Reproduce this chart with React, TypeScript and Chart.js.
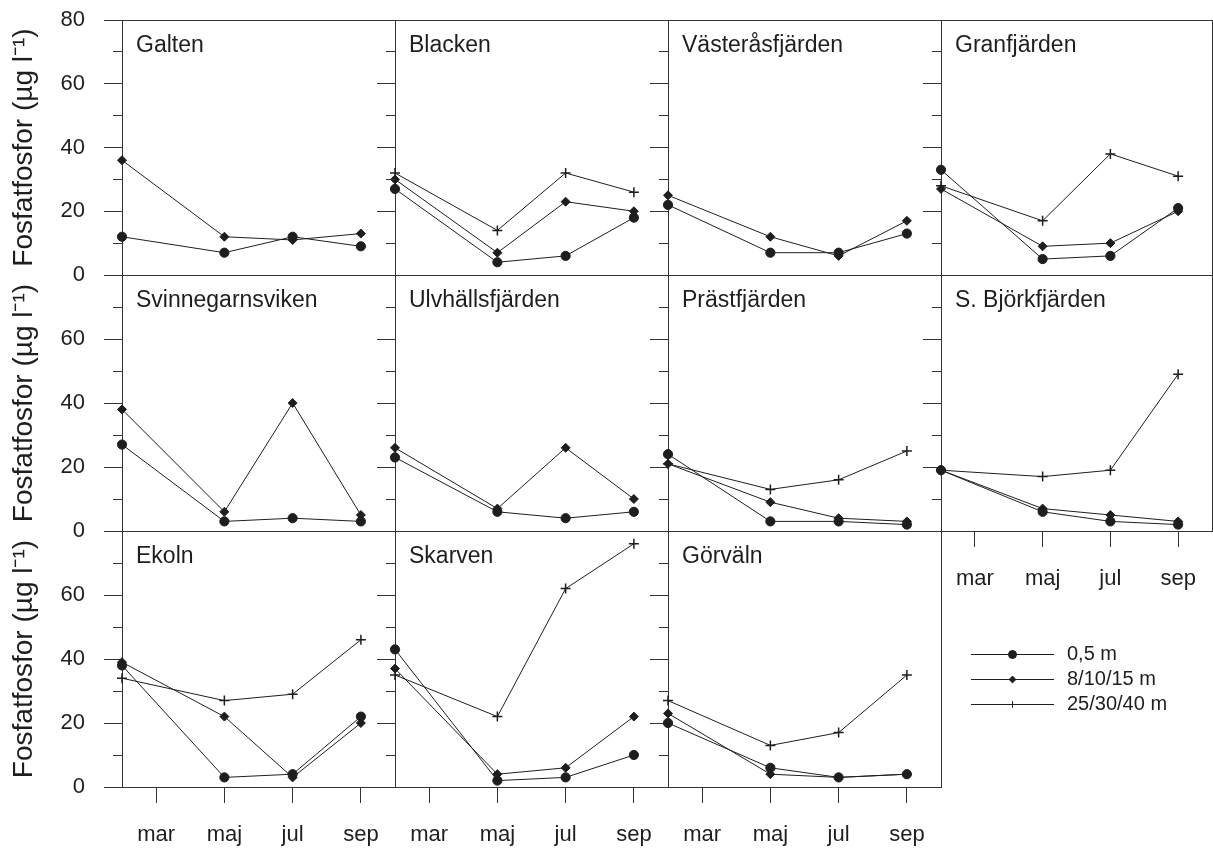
import React, { useEffect, useRef } from 'react';
import { Chart, registerables } from 'chart.js';

Chart.register(...registerables);

// ---------------- data ----------------
const SAMPLE_MONTHS = [2, 5, 7, 9]; // feb, maj, jul, sep
const MONTH_TICKS = [3, 5, 7, 9];
const MONTH_LABELS = ['mar', 'maj', 'jul', 'sep'];
const MINOR_Y_TICKS = [10, 30, 50, 70];
const DEPTHS = ['0,5 m', '8/10/15 m', '25/30/40 m'];
const Y_TITLE = 'Fosfatfosfor (µg l\u207B\u00B9)';

const GALTEN_05 = [12, 7, 12, 9];
const GALTEN_MID = [36, 12, 11, 13];

const BLACKEN_05 = [27, 4, 6, 18];
const BLACKEN_MID = [30, 7, 23, 20];
const BLACKEN_DEEP = [32, 14, 32, 26];

const VASTERAS_05 = [22, 7, 7, 13];
const VASTERAS_MID = [25, 12, 6, 17];

const GRAN_05 = [33, 5, 6, 21];
const GRAN_MID = [27, 9, 10, 20];
const GRAN_DEEP = [28, 17, 38, 31];

const SVINN_05 = [27, 3, 4, 3];
const SVINN_MID = [38, 6, 40, 5];

const ULV_05 = [23, 6, 4, 6];
const ULV_MID = [26, 7, 26, 10];

const PRAST_05 = [24, 3, 3, 2];
const PRAST_MID = [21, 9, 4, 3];
const PRAST_DEEP = [21, 13, 16, 25];

const BJORK_05 = [19, 6, 3, 2];
const BJORK_MID = [19, 7, 5, 3];
const BJORK_DEEP = [19, 17, 19, 49];

const EKOLN_05 = [38, 3, 4, 22];
const EKOLN_MID = [39, 22, 3, 20];
const EKOLN_DEEP = [34, 27, 29, 46];

const SKARV_05 = [43, 2, 3, 10];
const SKARV_MID = [37, 4, 6, 22];
const SKARV_DEEP = [35, 22, 62, 76];

const GORV_05 = [20, 6, 3, 4];
const GORV_MID = [23, 4, 3, 4];
const GORV_DEEP = [27, 13, 17, 35];

const STATIONS = [
  'Galten', 'Blacken', 'Västeråsfjärden', 'Granfjärden',
  'Svinnegarnsviken', 'Ulvhällsfjärden', 'Prästfjärden', 'S. Björkfjärden',
  'Ekoln', 'Skarven', 'Görväln',
];

const SERIES: (number[] | null)[][] = [
  [GALTEN_05, GALTEN_MID, null],
  [BLACKEN_05, BLACKEN_MID, BLACKEN_DEEP],
  [VASTERAS_05, VASTERAS_MID, null],
  [GRAN_05, GRAN_MID, GRAN_DEEP],
  [SVINN_05, SVINN_MID, null],
  [ULV_05, ULV_MID, null],
  [PRAST_05, PRAST_MID, PRAST_DEEP],
  [BJORK_05, BJORK_MID, BJORK_DEEP],
  [EKOLN_05, EKOLN_MID, EKOLN_DEEP],
  [SKARV_05, SKARV_MID, SKARV_DEEP],
  [GORV_05, GORV_MID, GORV_DEEP],
];

// ---------------- styling / layout ----------------
const FONT = '"Liberation Sans", Arial, Helvetica, sans-serif';
const INK = '#1e1e1e';
const AXIS = '#333333';
const X_MIN = 2;
const X_MAX = 10;
const Y_MAX = 80;

const COL_X = [122, 395, 668, 941];
const COL_W = [273, 273, 273, 271];
const ROW_Y = [20, 275, 531];
const ROW_H = [255, 256, 256];

const POINT_STYLES = ['circle', 'rectRot', 'cross'];
const POINT_RADII = [4.6, 4.5, 5];
const POINT_BORDER = [1, 1, 1.5];

Chart.defaults.font.family = FONT;

// short inner minor ticks on the left value axis
const minorTickPlugin = {
  id: 'minorTicks',
  afterDraw(chart: any) {
    const s = chart.scales.y;
    if (!s) return;
    const ctx = chart.ctx;
    ctx.save();
    ctx.strokeStyle = AXIS;
    ctx.lineWidth = 1;
    MINOR_Y_TICKS.forEach((v) => {
      const y = Math.round(s.getPixelForValue(v) - 0.5) + 0.5;
      ctx.beginPath();
      ctx.moveTo(s.right - 9, y);
      ctx.lineTo(s.right, y);
      ctx.stroke();
    });
    ctx.restore();
  },
};

function geometry(i: number) {
  const r = Math.floor(i / 4);
  const c = i % 4;
  const axisX = COL_X[c];
  const top = ROW_Y[r];
  const w = COL_W[c];
  const h = ROW_H[r];
  const showY = c === 0;
  const bottom = r === 2 || (r === 1 && c === 3);
  const rightBorder = c === 3 || (r === 2 && c === 2);
  const ML = showY ? axisX : 30;
  const MT = 40;
  const MB = bottom ? 61 : 40;
  const MR = 8;
  return {
    r, c, axisX, top, w, h, showY, bottom, rightBorder, ML, MT, MB, MR,
    cx: axisX - ML, cy: top - MT, cw: ML + w + MR, ch: MT + h + MB,
  };
}

function Panel({ index }: { index: number }) {
  const ref = useRef<HTMLCanvasElement>(null);
  const g = geometry(index);
  useEffect(() => {
    const series = SERIES[index];
    const datasets: any[] = [];
    series.forEach((vals, k) => {
      if (!vals) return;
      datasets.push({
        label: DEPTHS[k],
        data: vals.map((v, j) => ({ x: SAMPLE_MONTHS[j], y: v })),
        borderColor: INK,
        backgroundColor: INK,
        borderWidth: 1,
        pointStyle: POINT_STYLES[k],
        pointRadius: POINT_RADII[k],
        pointBorderWidth: POINT_BORDER[k],
        pointBackgroundColor: INK,
        pointBorderColor: INK,
        tension: 0,
        clip: false,
      });
    });
    const scales: any = {
      x: {
        type: 'linear',
        min: X_MIN,
        max: X_MAX,
        afterBuildTicks: (s: any) => {
          s.ticks = MONTH_TICKS.map((v) => ({ value: v }));
        },
        afterFit: (s: any) => {
          s.height = g.MB;
        },
        grid: g.bottom
          ? { display: true, drawOnChartArea: false, drawTicks: true, tickLength: 16, color: AXIS, tickColor: AXIS, tickWidth: 1 }
          : { display: false },
        border: { display: true, color: AXIS, width: 1 },
        ticks: {
          display: g.bottom,
          autoSkip: false,
          maxRotation: 0,
          padding: 19,
          color: INK,
          font: { family: FONT, size: 22 },
          callback: (v: any) => {
            const k = MONTH_TICKS.indexOf(Number(v));
            return k >= 0 ? MONTH_LABELS[k] : '';
          },
        },
      },
      y: {
        type: 'linear',
        position: 'left',
        min: 0,
        max: Y_MAX,
        afterFit: (s: any) => {
          s.width = g.ML;
        },
        ticks: {
          stepSize: 20,
          autoSkip: false,
          padding: 19,
          color: INK,
          font: { family: FONT, size: 22 },
          callback: (v: any) => {
            const n = Number(v);
            if (!g.showY) return '';
            if (n === Y_MAX && g.r > 0) return '';
            return String(n);
          },
        },
        grid: {
          display: true,
          drawOnChartArea: true,
          drawTicks: true,
          tickLength: 18,
          lineWidth: 1,
          tickWidth: 1,
          color: (ctx: any) =>
            ctx.tick && (ctx.tick.value === 0 || ctx.tick.value === Y_MAX) ? AXIS : 'rgba(0,0,0,0)',
          tickColor: AXIS,
        },
        border: { display: true, color: AXIS, width: 1 },
        title: g.showY
          ? { display: true, text: Y_TITLE, color: INK, font: { family: FONT, size: 28 }, padding: { top: 7, bottom: 0 } }
          : { display: false },
      },
    };
    if (g.rightBorder) {
      scales.y2 = {
        type: 'linear',
        position: 'right',
        min: 0,
        max: Y_MAX,
        grid: { display: false, drawTicks: false },
        ticks: { display: false },
        border: { display: true, color: AXIS, width: 1 },
        afterFit: (s: any) => {
          s.width = 0;
        },
      };
    }
    const chart = new Chart(ref.current as HTMLCanvasElement, {
      type: 'line',
      data: { datasets },
      plugins: [minorTickPlugin],
      options: {
        responsive: false,
        animation: false,
        devicePixelRatio: 1,
        events: [],
        layout: { padding: { left: 0, top: g.MT, right: g.MR, bottom: 0 } },
        plugins: { legend: { display: false }, tooltip: { enabled: false }, title: { display: false } },
        scales,
      } as any,
    });
    return () => chart.destroy();
  }, [index]);

  return (
    <>
      <canvas
        ref={ref}
        width={g.cw}
        height={g.ch}
        style={{ position: 'absolute', left: g.cx, top: g.cy, width: g.cw, height: g.ch }}
      />
      <div
        style={{
          position: 'absolute',
          left: g.axisX + 14,
          top: g.top + 13,
          font: `23px ${FONT}`,
          lineHeight: '23px',
          color: INK,
          whiteSpace: 'nowrap',
          zIndex: 5,
        }}
      >
        {STATIONS[index]}
      </div>
    </>
  );
}

function Legend() {
  const ref = useRef<HTMLCanvasElement>(null);
  const LX = 960;
  const LY = 612;
  const W = 240;
  const H = 135;
  useEffect(() => {
    const datasets = DEPTHS.map((label, k) => ({
      label,
      data: [0, 1, 2].map((x) => ({ x, y: label })),
      borderColor: INK,
      backgroundColor: INK,
      borderWidth: 1,
      pointStyle: POINT_STYLES[k],
      pointRadius: [0, k === 0 ? 4 : 3.4, 0],
      pointBorderWidth: 1,
      pointBackgroundColor: INK,
      pointBorderColor: INK,
      clip: false,
    }));
    const chart = new Chart(ref.current as HTMLCanvasElement, {
      type: 'line',
      data: { datasets },
      options: {
        responsive: false,
        animation: false,
        devicePixelRatio: 1,
        events: [],
        layout: { padding: { left: 11, top: 30, right: 0, bottom: 30 } },
        plugins: { legend: { display: false }, tooltip: { enabled: false } },
        scales: {
          x: { type: 'linear', min: 0, max: 2, display: false },
          y: {
            type: 'category',
            labels: DEPTHS,
            offset: true,
            position: 'right',
            grid: { display: false, drawTicks: false },
            border: { display: false },
            ticks: { autoSkip: false, padding: 13, color: INK, font: { family: FONT, size: 20 } },
            afterFit: (s: any) => {
              s.width = W - 94;
            },
          },
        },
      } as any,
    });
    return () => chart.destroy();
  }, []);
  return (
    <canvas
      ref={ref}
      width={W}
      height={H}
      style={{ position: 'absolute', left: LX, top: LY, width: W, height: H }}
    />
  );
}

export default function App() {
  return (
    <div
      style={{
        position: 'absolute',
        left: 0,
        top: 0,
        width: 1213,
        height: 848,
        background: '#ffffff',
        overflow: 'hidden',
      }}
    >
      {STATIONS.map((_, i) => (
        <Panel key={i} index={i} />
      ))}
      <Legend />
    </div>
  );
}
